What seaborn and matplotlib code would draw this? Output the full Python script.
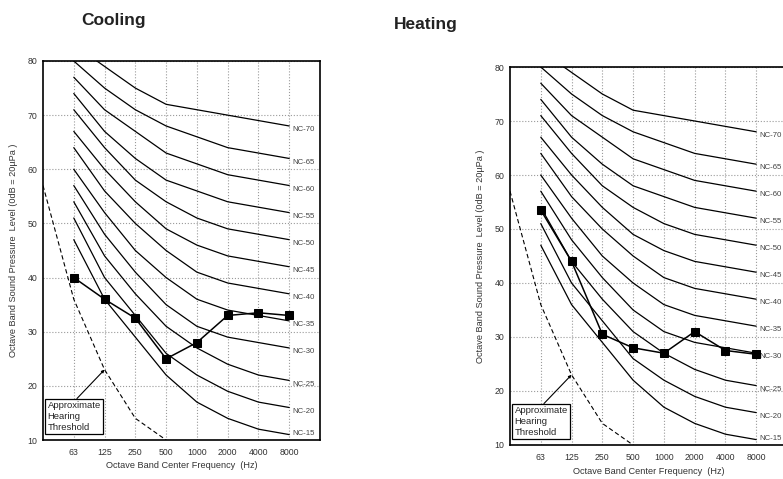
import numpy as np
import pandas as pd
import matplotlib
matplotlib.use('Agg')
import matplotlib.pyplot as plt
import seaborn as sns

# octave bands (31.5 Hz sits at the left edge, no tick label)
all_bands = ['31.5', '63', '125', '250', '500', '1000', '2000', '4000', '8000']
nc_bands = ['63', '125', '250', '500', '1000', '2000', '4000', '8000']

# NC curves, dB per band 63..8000
nc_15 = [47, 36, 29, 22, 17, 14, 12, 11]
nc_20 = [51, 40, 33, 26, 22, 19, 17, 16]
nc_25 = [54, 44, 37, 31, 27, 24, 22, 21]
nc_30 = [57, 48, 41, 35, 31, 29, 28, 27]
nc_35 = [60, 52, 45, 40, 36, 34, 33, 32]
nc_40 = [64, 56, 50, 45, 41, 39, 38, 37]
nc_45 = [67, 60, 54, 49, 46, 44, 43, 42]
nc_50 = [71, 64, 58, 54, 51, 49, 48, 47]
nc_55 = [74, 67, 62, 58, 56, 54, 53, 52]
nc_60 = [77, 71, 67, 63, 61, 59, 58, 57]
nc_65 = [80, 75, 71, 68, 66, 64, 63, 62]
nc_70 = [83, 79, 75, 72, 71, 70, 69, 68]
nc_names = ['NC-15', 'NC-20', 'NC-25', 'NC-30', 'NC-35', 'NC-40',
            'NC-45', 'NC-50', 'NC-55', 'NC-60', 'NC-65', 'NC-70']
nc_curves = [nc_15, nc_20, nc_25, nc_30, nc_35, nc_40,
             nc_45, nc_50, nc_55, nc_60, nc_65, nc_70]

# approximate hearing threshold
threshold_bands = ['31.5', '63', '125', '250', '500']
threshold_db = [57, 36, 23, 14, 10]

# measured spectra
cooling_db = [40, 36, 32.5, 25, 28, 33, 33.5, 33]
heating_db = [53.5, 44, 30.5, 28, 27, 31, 27.5, 26.8]

pos = {b: i for i, b in enumerate(all_bands)}

rows = []
for name, vals in zip(nc_names, nc_curves):
    for b, v in zip(nc_bands, vals):
        rows.append({'nc': name, 'x': pos[b], 'db': v})
df_nc = pd.DataFrame(rows)
df_thr = pd.DataFrame({'x': [pos[b] for b in threshold_bands], 'db': threshold_db})

sns.set_style('white')
plt.rcParams['font.family'] = ['Liberation Sans', 'DejaVu Sans']

fig = plt.figure(figsize=(7.83, 4.79), dpi=100)
W, H = 783.0, 479.0


def draw_panel(ax, data_db):
    sns.lineplot(data=df_nc, x='x', y='db', units='nc', estimator=None,
                 color='black', lw=0.9, ax=ax, legend=False)
    sns.lineplot(data=df_thr, x='x', y='db', color='black', lw=0.8,
                 dashes=False, ax=ax, legend=False)
    ax.lines[-1].set_linestyle((0, (4, 2.5)))
    df_m = pd.DataFrame({'x': [pos[b] for b in nc_bands], 'db': data_db})
    sns.lineplot(data=df_m, x='x', y='db', color='black', lw=1.1, marker='s',
                 markersize=6, markeredgecolor='black', ax=ax, legend=False, zorder=5)

    for name, vals in zip(nc_names, nc_curves):
        ax.text(pos['8000'] + 0.1, max(vals[-1] - 0.7, 11.2), name, fontsize=5.6,
                color='#444444', ha='left', va='center')

    ax.annotate('Approximate\nHearing\nThreshold', xy=(pos['125'], 23),
                xytext=(0.15, 11.5), fontsize=6.8, ha='left', va='bottom',
                linespacing=1.25,
                bbox=dict(boxstyle='square,pad=0.25', fc='white', ec='black', lw=0.9),
                arrowprops=dict(arrowstyle='-|>', color='black', lw=0.8,
                                mutation_scale=4, relpos=(0.5, 1.0), shrinkA=0, shrinkB=0))

    ax.set_xlim(0, 9)
    ax.set_ylim(10, 80)
    ax.set_xticks([pos[b] for b in nc_bands])
    ax.set_xticklabels(nc_bands)
    ax.set_yticks(np.arange(10, 81, 10))
    ax.set_yticks(np.arange(10, 81, 2), minor=True)
    ax.grid(True, which='major', color='#9a9a9a', linestyle=':', lw=0.8)
    ax.tick_params(axis='x', length=0, pad=6, labelsize=6.3, labelcolor='#333333')
    ax.tick_params(axis='y', which='major', direction='in', length=4, width=0.8,
                   pad=4, labelsize=6.3, labelcolor='#333333')
    ax.tick_params(axis='y', which='minor', direction='in', length=2.5, width=0.7)
    for s in ax.spines.values():
        s.set_linewidth(1.2)
        s.set_color('black')
    ax.set_xlabel('Octave Band Center Frequency  (Hz)', fontsize=6.6,
                  color='#333333', labelpad=3)
    ax.set_ylabel('Octave Band Sound Pressure  Level (0dB = 20\u00b5Pa )',
                  fontsize=6.6, color='#333333', labelpad=7)


ax1 = fig.add_axes([43 / W, (H - 440) / H, 277 / W, 379 / H])
draw_panel(ax1, cooling_db)
ax2 = fig.add_axes([510 / W, (H - 445) / H, 277 / W, 378 / H])
draw_panel(ax2, heating_db)

fig.text(114 / W, 1 - 20 / H, 'Cooling', fontsize=12.5, fontweight='bold',
         color='#222222', ha='center', va='center')
fig.text(426 / W, 1 - 25 / H, 'Heating', fontsize=12.5, fontweight='bold',
         color='#222222', ha='center', va='center')

fig.savefig('out.png', dpi=100)
